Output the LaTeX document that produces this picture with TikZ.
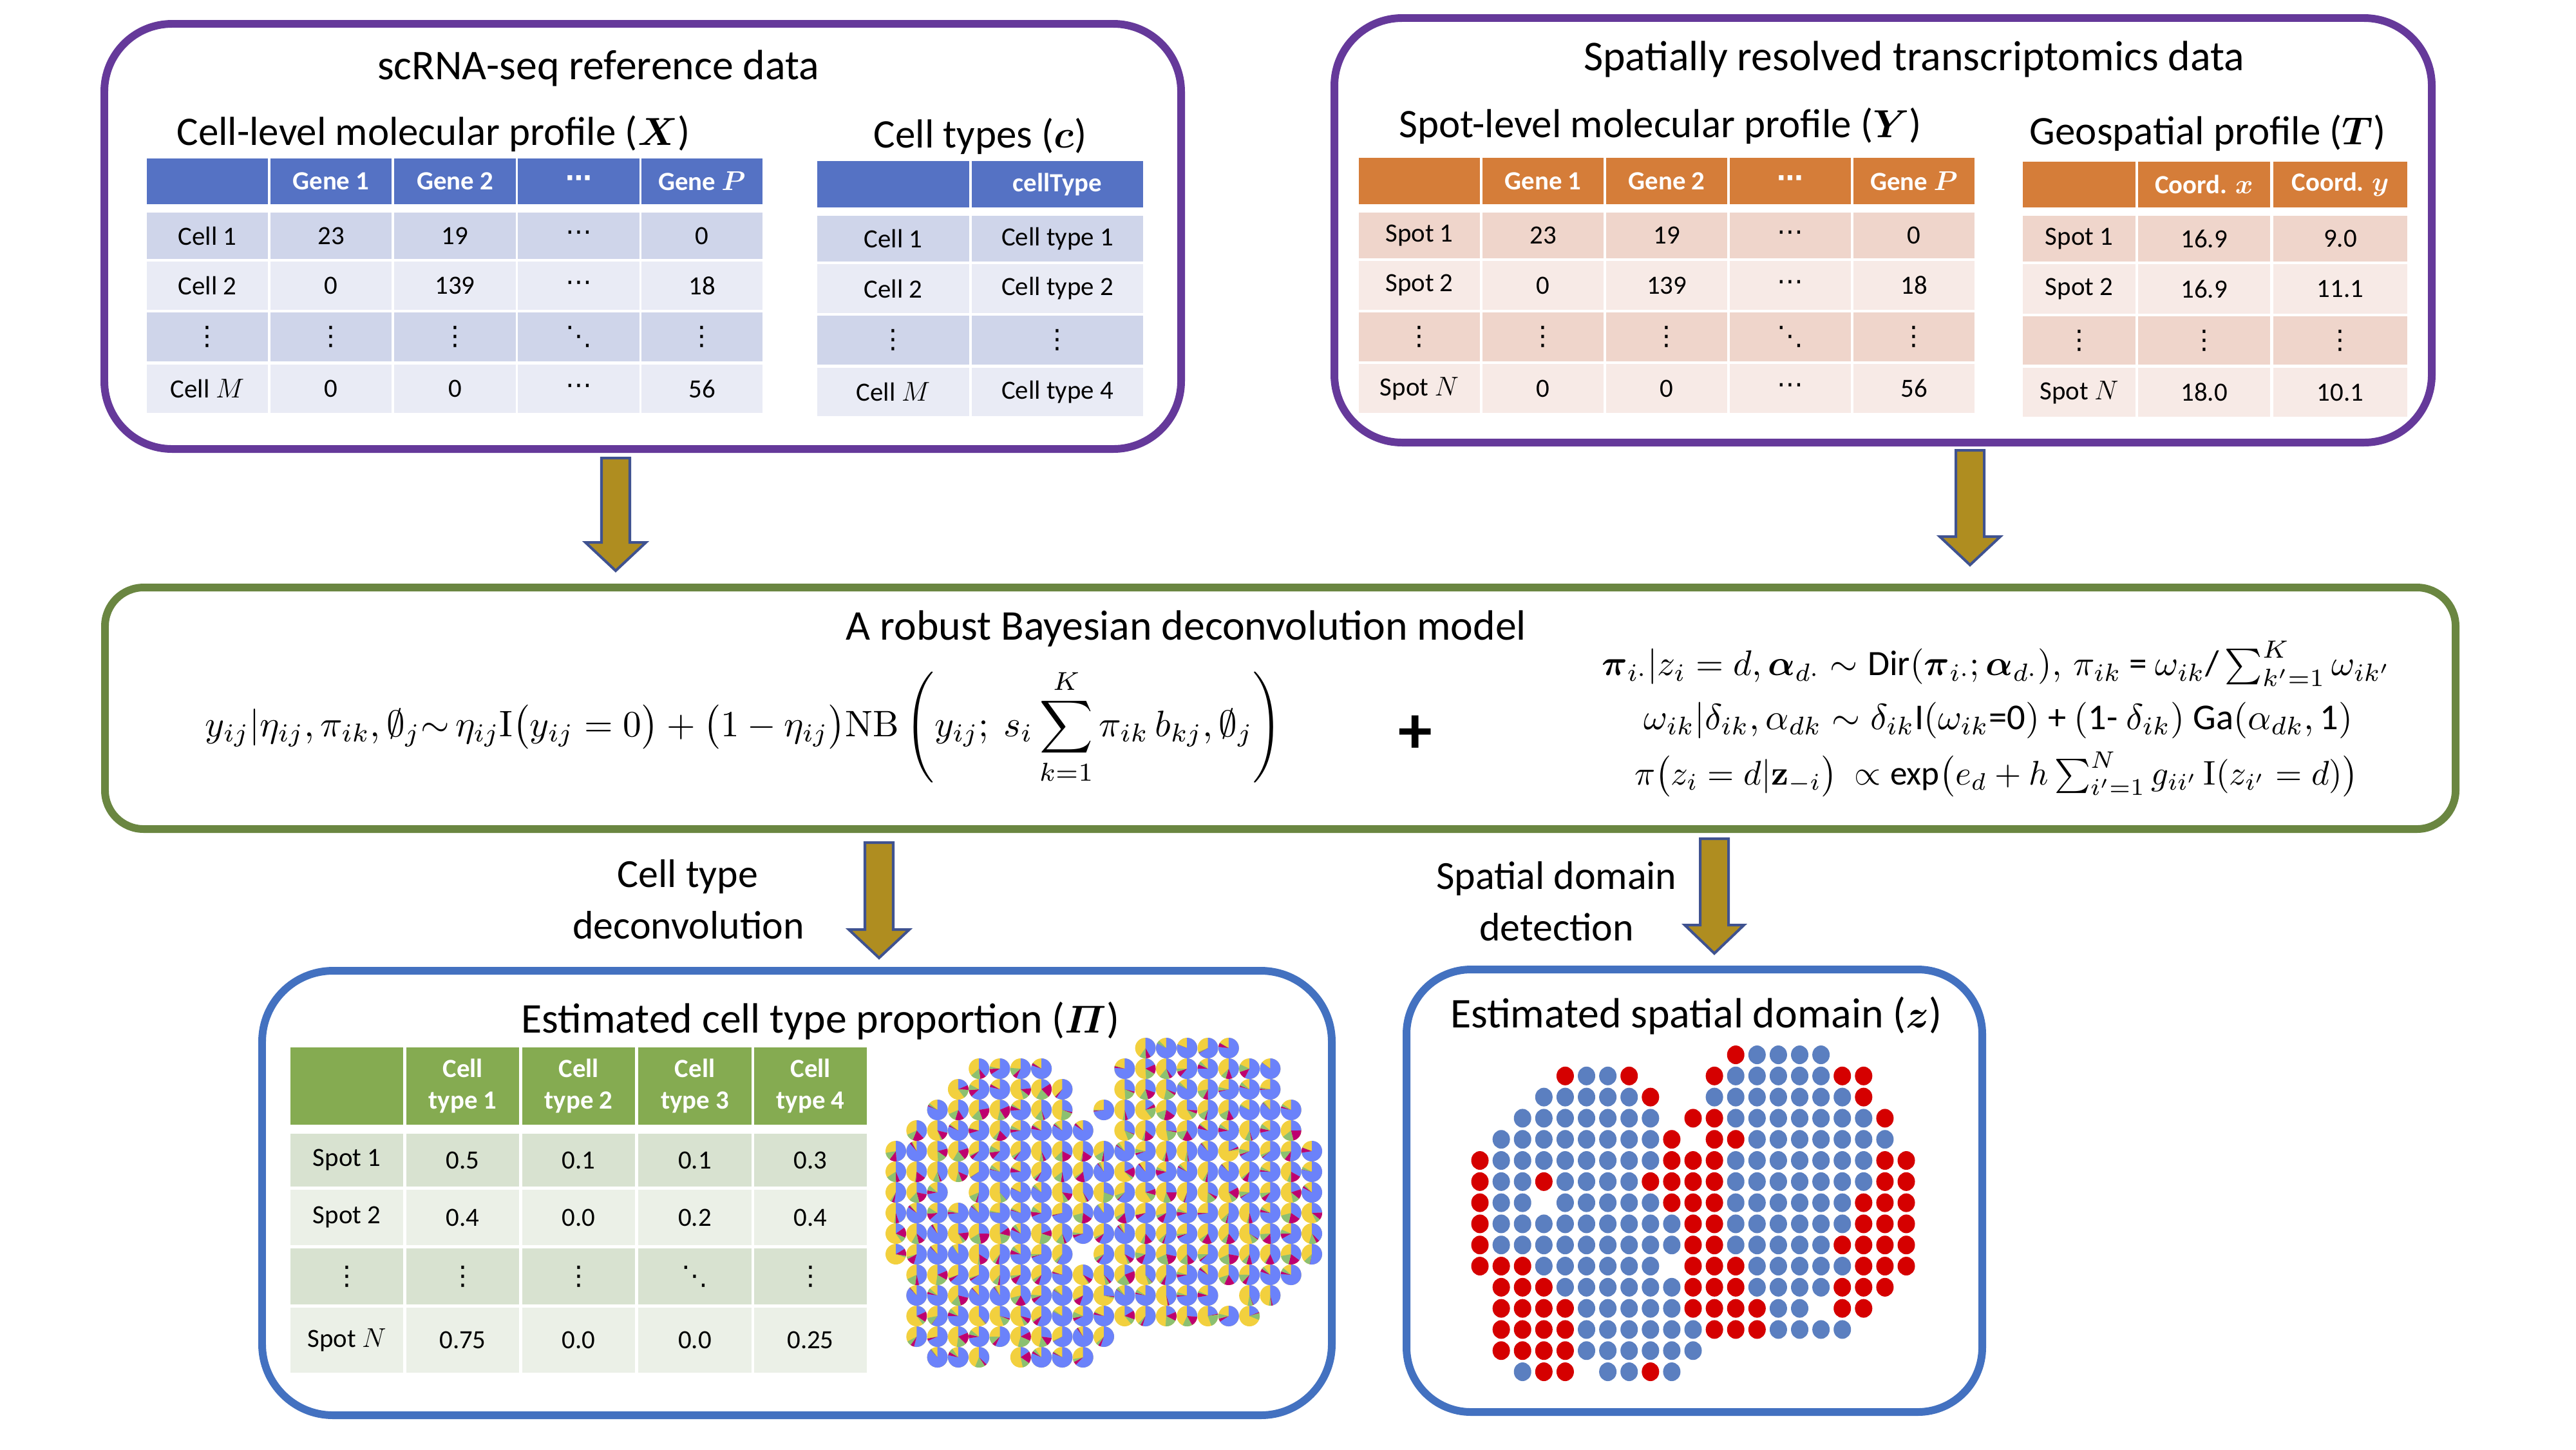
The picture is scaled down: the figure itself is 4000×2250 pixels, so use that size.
\documentclass[tikz,border=0pt]{standalone}
\usepackage{amsmath,amssymb}
\usepackage{graphicx}
\usepackage[no-math]{fontspec}
\setmainfont{Carlito}
\newfontfamily\dvfont{DejaVu Sans}
\newcommand\vdt{{\dvfont ⋮}}
\newcommand\cdt{{\dvfont ⋯}}
\newcommand\ddt{{\dvfont ⋱}}
\definecolor{purp}{HTML}{65399A}
\definecolor{grn}{HTML}{6A8641}
\definecolor{bbox}{HTML}{4371C0}
\definecolor{hdB}{HTML}{5572C4}
\definecolor{dkB}{HTML}{CFD5EA}
\definecolor{ltB}{HTML}{E9EBF5}
\definecolor{hdO}{HTML}{D57D39}
\definecolor{dkO}{HTML}{EFD5CB}
\definecolor{ltO}{HTML}{F7EAE6}
\definecolor{hdG}{HTML}{85AB51}
\definecolor{dkG}{HTML}{D8E2D0}
\definecolor{ltG}{HTML}{EBF0E7}
\definecolor{arrfill}{HTML}{AF8D20}
\definecolor{arrline}{HTML}{3F5290}
\definecolor{pieB}{HTML}{6B82FA}
\definecolor{pieY}{HTML}{F2D03E}
\definecolor{pieG}{HTML}{8CC071}
\definecolor{pieM}{HTML}{BE0070}
\definecolor{domR}{HTML}{D50000}
\definecolor{domB}{HTML}{5B7FC0}
\tikzset{
  cellbase/.style={inner sep=0pt, outer sep=0pt, align=center, draw=none,
    font=\fontsize{11.6}{14}\selectfont, text=black},
  hB/.style={cellbase, fill=hdB, text=white, font=\fontsize{11.6}{14}\selectfont\bfseries},
  dB/.style={cellbase, fill=dkB},
  lB/.style={cellbase, fill=ltB},
  hO/.style={cellbase, fill=hdO, text=white, font=\fontsize{11.6}{14}\selectfont\bfseries},
  dO/.style={cellbase, fill=dkO},
  lO/.style={cellbase, fill=ltO},
  hG/.style={cellbase, fill=hdG, text=white, font=\fontsize{11.6}{14}\selectfont\bfseries},
  dG/.style={cellbase, fill=dkG},
  lG/.style={cellbase, fill=ltG},
  panel/.style={inner sep=0pt, outer sep=0pt, line width=3.4pt, fill=white},
  ttl/.style={font=\fontsize{18.7}{22}\selectfont, anchor=base, inner sep=0pt},
  subttl/.style={font=\fontsize{17.9}{21}\selectfont, anchor=base, inner sep=0pt},
  lbl/.style={font=\fontsize{17.6}{21}\selectfont, anchor=base, inner sep=0pt},
  barrow/.style={fill=arrfill, draw=arrline, line width=1.15pt, line join=miter},
}
% style, x1, x2, y1, y2, name, text
\newcommand\tcell[7]{\node[#1, minimum width={(#3-#2)*0.01cm}, minimum height={(#5-#4)*0.01cm}] (#6) at ({(#2+#3)/2},{(#4+#5)/2}) {#7};}
\newcommand\xrow[9]{%
  \tcell{#1}{228}{416}{#2}{#3}{#4-1}{#5}
  \tcell{#1}{420}{608}{#2}{#3}{#4-2}{#6}
  \tcell{#1}{612}{801}{#2}{#3}{#4-3}{#7}
  \tcell{#1}{804}{993}{#2}{#3}{#4-4}{#8}
  \tcell{#1}{996}{1184}{#2}{#3}{#4-5}{#9}}
\newcommand\crow[6]{%
  \tcell{#1}{1269}{1505}{#2}{#3}{#4-1}{#5}
  \tcell{#1}{1509}{1775}{#2}{#3}{#4-2}{#6}}
\newcommand\yrow[9]{%
  \tcell{#1}{2110}{2298}{#2}{#3}{#4-1}{#5}
  \tcell{#1}{2302}{2490}{#2}{#3}{#4-2}{#6}
  \tcell{#1}{2494}{2682}{#2}{#3}{#4-3}{#7}
  \tcell{#1}{2686}{2874}{#2}{#3}{#4-4}{#8}
  \tcell{#1}{2878}{3066}{#2}{#3}{#4-5}{#9}}
\newcommand\trow[7]{%
  \tcell{#1}{3141}{3316}{#2}{#3}{#4-1}{#5}
  \tcell{#1}{3320}{3525}{#2}{#3}{#4-2}{#6}
  \tcell{#1}{3530}{3738}{#2}{#3}{#4-3}{#7}}
\newcommand\prow[9]{%
  \tcell{#1}{451}{626}{#2}{#3}{#4-1}{#5}
  \tcell{#1}{631}{806}{#2}{#3}{#4-2}{#6}
  \tcell{#1}{811}{986}{#2}{#3}{#4-3}{#7}
  \tcell{#1}{991}{1167}{#2}{#3}{#4-4}{#8}
  \tcell{#1}{1171}{1346}{#2}{#3}{#4-5}{#9}}
% name, cx, top, neck, tip, shaft half width, head half width
\newcommand\blockarrow[7]{%
  \coordinate (#1-top) at (#2,#3);
  \coordinate (#1-tip) at (#2,#5);
  \draw[barrow] ({#2-#6},#3) -- ({#2+#6},#3) -- ({#2+#6},#4) -- ({#2+#7},#4)
    -- (#1-tip) -- ({#2-#7},#4) -- ({#2-#6},#4) -- cycle;}
\def\spotmap{{%
0,0,0,0,0,0,0,0,0,0,0,0,2,1,1,1,1,0,0,0,0,%
0,0,0,0,2,1,1,2,0,0,0,2,1,1,1,1,1,2,2,0,0,%
0,0,0,1,1,1,1,1,2,0,0,1,1,1,1,1,1,1,2,0,0,%
0,0,1,1,1,1,1,1,1,0,2,2,1,1,1,1,1,1,1,2,0,%
0,1,1,1,1,1,1,1,1,2,0,2,2,1,1,1,1,1,1,1,0,%
2,1,1,1,1,1,1,1,1,2,2,2,1,1,1,1,1,1,1,2,2,%
2,1,1,2,1,1,1,1,2,2,2,2,1,1,1,1,1,1,1,2,2,%
2,1,1,0,1,1,1,1,1,2,2,2,1,1,1,1,1,1,2,2,2,%
2,1,1,1,1,1,1,1,1,1,2,2,1,1,1,1,1,1,2,2,2,%
2,1,1,1,1,1,1,1,1,1,2,2,1,1,1,1,1,2,2,2,2,%
2,2,2,1,1,1,1,1,1,0,2,2,2,1,1,1,1,1,2,2,2,%
0,2,2,2,1,1,1,1,1,1,2,2,2,1,1,1,1,2,2,2,0,%
0,2,2,2,2,1,1,1,1,1,2,2,2,2,1,1,0,2,2,0,0,%
0,2,2,2,2,1,1,1,1,1,1,2,2,2,1,1,1,1,0,0,0,%
0,2,2,2,2,1,1,1,1,1,1,0,0,0,0,0,0,0,0,0,0,%
0,0,1,2,2,0,1,1,2,1,0,0,0,0,0,0,0,0,0,0,0}}
\begin{document}
\begin{tikzpicture}[x=0.01cm, y=-0.01cm]
\useasboundingbox (0,0) rectangle (4000,2250);
\fill[white] (0,0) rectangle (4000,2250);

% ---------- panels ----------
\tcell{panel, draw=purp, rounded corners=1.05cm}{162}{1834}{37}{697}{scbox}{}
\tcell{panel, draw=purp, rounded corners=1.05cm}{2072}{3776}{28}{687}{stbox}{}
\tcell{panel, draw=grn, rounded corners=0.6cm}{163}{3813}{912}{1287}{modelbox}{}
\tcell{panel, draw=bbox, rounded corners=1.1cm}{407}{2068}{1507}{2197}{propbox}{}
\tcell{panel, draw=bbox, rounded corners=1.0cm}{2184}{3078}{1505}{2192}{dombox}{}

% ---------- top-left panel ----------
\node[ttl] (sctitle) at (929,123) {scRNA-seq reference data};
\node[subttl] (xtitle) at (673,225) {Cell-level molecular profile ($\boldsymbol{X}$)};
\node[subttl] (ctitle) at (1522,229) {Cell types ($\boldsymbol{c}$)};
\xrow{hB}{246}{317}{Xh}{}{Gene 1}{Gene 2}{\cdt}{Gene $\boldsymbol{P}$}
\xrow{dB}{330}{402}{X1}{Cell 1}{23}{19}{\cdt}{0}
\xrow{lB}{406}{481}{X2}{Cell 2}{0}{139}{\cdt}{18}
\xrow{dB}{485}{561}{X3}{\vdt}{\vdt}{\vdt}{\ddt}{\vdt}
\xrow{lB}{566}{641}{X4}{Cell $M$}{0}{0}{\cdt}{56}
\crow{hB}{250}{322}{Ch}{}{cellType}
\crow{dB}{335}{406}{C1}{Cell 1}{Cell type 1}
\crow{lB}{410}{486}{C2}{Cell 2}{Cell type 2}
\crow{dB}{490}{566}{C3}{\vdt}{\vdt}
\crow{lB}{571}{646}{C4}{Cell $M$}{Cell type 4}

% ---------- top-right panel ----------
\node[ttl] (sttitle) at (2972,109) {Spatially resolved transcriptomics data};
\node[subttl] (ytitle) at (2578,213) {Spot-level molecular profile ($\boldsymbol{Y}$)};
\node[subttl] (ttitle) at (3428,224) {Geospatial profile ($\boldsymbol{T}$)};
\yrow{hO}{245}{317}{Yh}{}{Gene 1}{Gene 2}{\cdt}{Gene $\boldsymbol{P}$}
\yrow{dO}{330}{401}{Y1}{Spot 1}{23}{19}{\cdt}{0}
\yrow{lO}{405}{481}{Y2}{Spot 2}{0}{139}{\cdt}{18}
\yrow{dO}{485}{561}{Y3}{\vdt}{\vdt}{\vdt}{\ddt}{\vdt}
\yrow{lO}{565}{641}{Y4}{Spot $N$}{0}{0}{\cdt}{56}
\trow{hO}{251}{322}{Th}{}{Coord. $\boldsymbol{x}$}{Coord. $\boldsymbol{y}$}
\trow{dO}{335}{406}{T1}{Spot 1}{16.9}{9.0}
\trow{lO}{410}{487}{T2}{Spot 2}{16.9}{11.1}
\trow{dO}{491}{566}{T3}{\vdt}{\vdt}{\vdt}
\trow{lO}{571}{647}{T4}{Spot $N$}{18.0}{10.1}

% ---------- arrows ----------
\blockarrow{a1}{956}{711}{842}{886}{22}{47}
\blockarrow{a2}{3059}{699}{833}{877}{22}{47}
\blockarrow{a3}{1365}{1308}{1443}{1487}{22}{47}
\blockarrow{a4}{2662}{1302}{1436}{1480}{22}{46}

% ---------- model panel ----------
\node[ttl] (mtitle) at (1842,993) {A robust Bayesian deconvolution model};
\node[inner sep=0pt] (lform) at (1155,1128) {\resizebox{16.71cm}{!}{$\displaystyle
  y_{ij}|\eta_{ij},\pi_{ik},\emptyset_j{\sim}\,\eta_{ij}\mathrm{I}\big(y_{ij}=0\big)+\big(1-\eta_{ij}\big)\mathrm{NB}\left(y_{ij};\ s_i\sum_{k=1}^{K}\pi_{ik}\,b_{kj},\emptyset_j\right)$}};
\node[inner sep=0pt, font=\fontsize{30}{30}\selectfont\bfseries] (plus) at (2198,1140) {+};
\node[inner sep=0pt] (f1) at (3100,1030) {\resizebox{12.25cm}{!}{$
  \boldsymbol{\pi}_{i\cdot}|z_i=d,\boldsymbol{\alpha}_{d\cdot}\sim\text{Dir}(\boldsymbol{\pi}_{i\cdot};\boldsymbol{\alpha}_{d\cdot}),\,\pi_{ik}\text{ = }\omega_{ik}\text{/}\textstyle\sum_{k'=1}^{K}\omega_{ik'}$}};
\node[inner sep=0pt] (f2) at (3103,1118) {\resizebox{11.0cm}{!}{$
  \omega_{ik}|\delta_{ik},\alpha_{dk}\sim\delta_{ik}\text{I}(\omega_{ik}\text{=0})\text{ + }(\text{1- }\delta_{ik})\text{ Ga}(\alpha_{dk},\text{1})$}};
\node[inner sep=0pt] (f3) at (3100,1202) {\resizebox{11.23cm}{!}{$
  \pi\big(z_i=d|\mathbf{z}_{-i}\big)\ \propto\text{exp}\big(e_d+h\textstyle\sum_{i'=1}^{N}g_{ii'}\,\mathrm{I}(z_{i'}=d)\big)$}};

% ---------- labels ----------
\node[lbl] (lab1a) at (1068,1377) {Cell type};
\node[lbl] (lab1b) at (1069,1457) {deconvolution};
\node[lbl] (lab2a) at (2417,1380) {Spatial domain};
\node[lbl] (lab2b) at (2417,1460) {detection};

% ---------- bottom-left panel ----------
\node[ttl] (ptitle) at (1274,1603) {Estimated cell type proportion ($\boldsymbol{\varPi}$)};
\prow{hG}{1626}{1746}{Ph}{}{Cell\\type 1}{Cell\\type 2}{Cell\\type 3}{Cell\\type 4}
\prow{dG}{1760}{1842}{P1}{Spot 1}{0.5}{0.1}{0.1}{0.3}
\prow{lG}{1847}{1933}{P2}{Spot 2}{0.4}{0.0}{0.2}{0.4}
\prow{dG}{1938}{2025}{P3}{\vdt}{\vdt}{\vdt}{\ddt}{\vdt}
\prow{lG}{2030}{2131}{P4}{Spot $N$}{0.75}{0.0}{0.0}{0.25}

% ---------- bottom-right panel ----------
\node[ttl] (dtitle) at (2634,1595) {Estimated spatial domain ($\boldsymbol{z}$)};

% ---------- spots ----------
\pgfmathsetseed{12}
\foreach \ri in {0,...,15}{
  \foreach \ci in {0,...,20}{
    \pgfmathtruncatemacro\spv{\spotmap[\ri*21+\ci]}
    \ifnum\spv>0\relax
      \pgfmathsetmacro\spx{1391+32.3*\ci}
      \pgfmathsetmacro\spy{1627+32*\ri}
      \pgfmathsetmacro\pB{0.15+0.75*rnd}
      \pgfmathsetmacro\pM{(1-\pB)*0.3*rnd}
      \pgfmathsetmacro\pG{(1-\pB)*0.3*rnd}
      \pgfmathsetmacro\angA{-90+360*\pB}
      \pgfmathsetmacro\angB{\angA+360*\pM}
      \pgfmathsetmacro\angC{\angB+360*\pG}
      \fill[pieY] (\spx,\spy) circle[radius=16];
      \fill[pieB] (\spx,\spy) -- ++(-90:16) arc[start angle=-90,end angle=\angA,radius=16] -- cycle;
      \fill[pieM] (\spx,\spy) -- ++(\angA:16) arc[start angle=\angA,end angle=\angB,radius=16] -- cycle;
      \fill[pieG] (\spx,\spy) -- ++(\angB:16) arc[start angle=\angB,end angle=\angC,radius=16] -- cycle;
      \pgfmathsetmacro\dpx{2298+33.1*\ci}
      \pgfmathsetmacro\dpy{1637.5+32.8*\ri}
      \ifnum\spv=1\relax
        \fill[domB] (\dpx,\dpy) ellipse[x radius=13.5,y radius=14.5];
      \else
        \fill[domR] (\dpx,\dpy) ellipse[x radius=13.5,y radius=14.5];
      \fi
    \fi
  }
}
\end{tikzpicture}
\end{document}
